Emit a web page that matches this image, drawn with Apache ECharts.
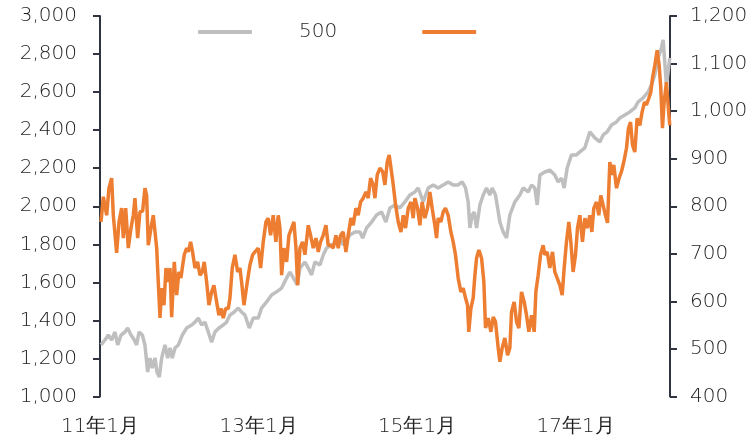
<!DOCTYPE html>
<html>
<head>
<meta charset="utf-8">
<script src="https://cdn.jsdelivr.net/npm/echarts@6/dist/echarts.min.js"></script>
<style>
  html, body { margin: 0; padding: 0; background: #fff; }
  #chart { width: 755px; height: 441px; }
</style>
</head>
<body>
<div id="chart"></div>
<script>
// x positions are fractional years (2011.5 = mid 2011)
const grayYears = [2011.013, 2011.063, 2011.105, 2011.147, 2011.189, 2011.223, 2011.265, 2011.315, 2011.349, 2011.391, 2011.433, 2011.462, 2011.492, 2011.534, 2011.567, 2011.601, 2011.631, 2011.660, 2011.694, 2011.719, 2011.748, 2011.778, 2011.820, 2011.853, 2011.883, 2011.912, 2011.946, 2011.988,
  2012.038, 2012.093, 2012.156, 2012.198, 2012.240, 2012.282, 2012.324, 2012.366, 2012.408, 2012.450, 2012.500, 2012.555, 2012.597, 2012.639, 2012.693, 2012.744, 2012.786, 2012.829, 2012.883, 2012.933, 2012.996,
  2013.038, 2013.101, 2013.164, 2013.228, 2013.291, 2013.354, 2013.396, 2013.438, 2013.488, 2013.522, 2013.585, 2013.627, 2013.669, 2013.711, 2013.774, 2013.816, 2013.858, 2013.921, 2013.984,
  2014.026, 2014.068, 2014.153, 2014.216, 2014.279, 2014.313, 2014.363, 2014.426, 2014.489, 2014.552, 2014.606, 2014.657, 2014.720, 2014.783, 2014.846, 2014.909, 2014.972,
  2015.014, 2015.077, 2015.140, 2015.203, 2015.266, 2015.329, 2015.392, 2015.455, 2015.518, 2015.569, 2015.611, 2015.644, 2015.666, 2015.695, 2015.720, 2015.750, 2015.792, 2015.834, 2015.876, 2015.918, 2015.947, 2015.989,
  2016.044, 2016.086, 2016.128, 2016.170, 2016.233, 2016.296, 2016.338, 2016.401, 2016.444, 2016.485, 2016.515, 2016.549, 2016.611, 2016.674, 2016.737, 2016.779, 2016.822, 2016.855, 2016.893, 2016.947,
  2017.010, 2017.053, 2017.116, 2017.179, 2017.242, 2017.305, 2017.347, 2017.397, 2017.452, 2017.515, 2017.557, 2017.620, 2017.683, 2017.746, 2017.788, 2017.851, 2017.914, 2017.956, 2017.998,
  2018.040, 2018.082, 2018.103, 2018.124, 2018.145, 2018.166, 2018.187];
const grayValues = [1271, 1297, 1323, 1297, 1339, 1271, 1323, 1339, 1360, 1323, 1297, 1271, 1339, 1323, 1271, 1129, 1202, 1149, 1202, 1129, 1102, 1202, 1271, 1202, 1255, 1202, 1255, 1271,
  1323, 1360, 1376, 1391, 1412, 1376, 1391, 1339, 1286, 1339, 1360, 1376, 1391, 1428, 1444, 1465, 1444, 1428, 1360, 1412, 1412,
  1465, 1497, 1534, 1550, 1570, 1623, 1654, 1623, 1586, 1675, 1707, 1675, 1639, 1707, 1691, 1744, 1780, 1796, 1812,
  1833, 1796, 1849, 1865, 1865, 1833, 1886, 1917, 1954, 1970, 1917, 1991, 2007, 1991, 2023, 2059, 2075,
  2096, 2023, 2096, 2112, 2096, 2112, 2128, 2112, 2112, 2128, 2096, 2023, 1886, 1954, 1970, 1886, 2007, 2059, 2096, 2059, 2096, 2059,
  1917, 1865, 1833, 1954, 2023, 2059, 2096, 2075, 2112, 2096, 2007, 2164, 2180, 2190, 2164, 2128, 2148, 2096, 2201, 2270,
  2270, 2286, 2307, 2391, 2359, 2338, 2375, 2391, 2427, 2443, 2464, 2480, 2496, 2517, 2549, 2570, 2601, 2638, 2690,
  2780, 2832, 2874, 2759, 2638, 2706, 2780];

const orangeYears = [2011.013, 2011.042, 2011.084, 2011.113, 2011.147, 2011.168, 2011.210, 2011.240, 2011.273, 2011.294, 2011.324, 2011.357, 2011.391, 2011.420, 2011.441, 2011.475, 2011.504, 2011.538, 2011.567, 2011.588, 2011.609, 2011.643, 2011.672, 2011.694, 2011.715, 2011.735, 2011.757, 2011.778, 2011.807, 2011.832, 2011.861, 2011.883, 2011.904, 2011.937, 2011.967, 2011.996,
  2012.021, 2012.038, 2012.063, 2012.093, 2012.114, 2012.143, 2012.168, 2012.198, 2012.231, 2012.261, 2012.290, 2012.315, 2012.345, 2012.374, 2012.408, 2012.437, 2012.471, 2012.500, 2012.526, 2012.555, 2012.585, 2012.618, 2012.639, 2012.668, 2012.702, 2012.736, 2012.765, 2012.786, 2012.816, 2012.858, 2012.892, 2012.926, 2012.955, 2012.996,
  2013.026, 2013.059, 2013.093, 2013.122, 2013.152, 2013.185, 2013.219, 2013.248, 2013.270, 2013.291, 2013.320, 2013.354, 2013.383, 2013.417, 2013.446, 2013.472, 2013.493, 2013.522, 2013.555, 2013.585, 2013.627, 2013.656, 2013.690, 2013.724, 2013.753, 2013.782, 2013.816, 2013.850, 2013.879, 2013.909, 2013.942, 2013.976,
  2014.005, 2014.035, 2014.068, 2014.102, 2014.131, 2014.165, 2014.194, 2014.228, 2014.257, 2014.287, 2014.320, 2014.354, 2014.383, 2014.413, 2014.446, 2014.468, 2014.497, 2014.531, 2014.565, 2014.594, 2014.623, 2014.648, 2014.699, 2014.729, 2014.762, 2014.796, 2014.825, 2014.854, 2014.888, 2014.922, 2014.951, 2014.972,
  2015.006, 2015.035, 2015.064, 2015.098, 2015.132, 2015.161, 2015.190, 2015.224, 2015.245, 2015.266, 2015.300, 2015.329, 2015.358, 2015.392, 2015.426, 2015.455, 2015.484, 2015.518, 2015.552, 2015.581, 2015.611, 2015.636, 2015.652, 2015.678, 2015.707, 2015.729, 2015.750, 2015.779, 2015.813, 2015.842, 2015.863, 2015.897, 2015.931, 2015.960, 2015.989,
  2016.023, 2016.044, 2016.073, 2016.107, 2016.141, 2016.170, 2016.191, 2016.224, 2016.254, 2016.284, 2016.317, 2016.351, 2016.380, 2016.410, 2016.444, 2016.477, 2016.498, 2016.527, 2016.557, 2016.590, 2016.611, 2016.641, 2016.674, 2016.708, 2016.737, 2016.767, 2016.800, 2016.830, 2016.855, 2016.884, 2016.914, 2016.939, 2016.968, 2016.998,
  2017.023, 2017.053, 2017.086, 2017.116, 2017.145, 2017.179, 2017.204, 2017.229, 2017.263, 2017.292, 2017.317, 2017.347, 2017.376, 2017.402, 2017.431, 2017.452, 2017.481, 2017.515, 2017.548, 2017.578, 2017.607, 2017.641, 2017.666, 2017.692, 2017.717, 2017.746, 2017.775, 2017.809, 2017.838, 2017.868, 2017.893, 2017.923, 2017.948, 2017.969, 2017.999,
  2018.028, 2018.053, 2018.074, 2018.095, 2018.116, 2018.145, 2018.166, 2018.187];
const orangeValues = [767, 820, 781, 838, 859, 781, 702, 767, 796, 733, 796, 712, 754, 781, 817, 733, 788, 790, 838, 823, 718, 754, 781, 746, 712, 641, 565, 628, 592, 670, 641, 670, 567, 683, 613, 662,
  649, 670, 698, 712, 704, 725, 704, 670, 683, 655, 662, 683, 641, 592, 620, 634, 599, 571, 585, 565, 585, 585, 607, 670, 698, 662, 670, 641, 592, 641, 677, 698, 704, 712,
  670, 725, 767, 775, 739, 781, 725, 781, 754, 655, 712, 683, 739, 754, 767, 712, 634, 712, 725, 698, 760, 739, 712, 733, 704, 725, 739, 760, 718, 718, 712, 739,
  712, 739, 746, 704, 739, 775, 760, 796, 781, 809, 817, 830, 817, 859, 845, 817, 866, 880, 873, 845, 893, 908, 845, 802, 767, 746, 781, 754, 796, 809, 775, 817,
  796, 760, 809, 775, 796, 830, 796, 760, 733, 775, 767, 788, 796, 781, 746, 725, 698, 649, 620, 628, 607, 592, 536, 585, 607, 655, 691, 708, 691, 641, 544, 565, 536, 567, 557,
  502, 473, 502, 523, 487, 502, 578, 599, 557, 544, 620, 599, 571, 536, 571, 536, 620, 655, 698, 718, 698, 704, 670, 704, 662, 649, 634, 613, 670, 725, 767, 725, 662, 698,
  754, 781, 725, 775, 754, 781, 746, 796, 809, 781, 823, 802, 781, 765, 893, 866, 887, 838, 859, 873, 893, 922, 964, 977, 929, 914, 985, 970, 998, 1019, 1013, 1027, 1040, 1069, 1097,
  1128, 1097, 1048, 964, 1019, 1061, 1013, 970];

const xTickYears = [2011, 2013, 2015, 2017];
const grayName = '500';
const orangeName = ' ';

const pair = (xs, ys) => xs.map((x, i) => [x, ys[i]]);
const thousands = v => String(v).replace(/\B(?=(\d{3})+(?!\d))/g, ',');

const axisColor = '#2f3440';
const labelFont = { fontFamily: 'DejaVu Sans', fontWeight: 200, fontSize: 20, color: '#1e1e1e' };

const chart = echarts.init(document.getElementById('chart'));
chart.setOption({
  animation: false,
  backgroundColor: '#fff',
  grid: { left: 100, right: 85, top: 16, bottom: 44.5, containLabel: false },
  legend: {
    left: 193,
    top: 17,
    icon: 'roundRect',
    itemWidth: 54,
    itemHeight: 4,
    itemGap: 85,
    textStyle: labelFont,
    data: [
      { name: grayName, textStyle: { padding: [0, 0, 0, 42] } },
      { name: orangeName }
    ]
  },
  xAxis: {
    type: 'value',
    min: 2011,
    max: 2018.19,
    interval: 2,
    axisLine: { show: false },
    axisTick: { show: false },
    splitLine: { show: false },
    axisLabel: Object.assign({}, labelFont, {
      margin: 20,
      showMaxLabel: false,
      formatter: v => xTickYears.includes(v) ? (v % 100) + '年1月' : ''
    })
  },
  yAxis: [
    {
      type: 'value',
      min: 1000,
      max: 3000,
      interval: 200,
      position: 'left',
      axisLine: { show: true, lineStyle: { color: axisColor, width: 2 } },
      axisTick: { show: true, length: 7, lineStyle: { color: axisColor, width: 2 } },
      splitLine: { show: false },
      axisLabel: Object.assign({}, labelFont, { margin: 23, formatter: thousands })
    },
    {
      type: 'value',
      min: 400,
      max: 1200,
      interval: 100,
      position: 'right',
      axisLine: { show: true, lineStyle: { color: axisColor, width: 2 } },
      axisTick: { show: true, length: 7, lineStyle: { color: axisColor, width: 2 } },
      splitLine: { show: false },
      axisLabel: Object.assign({}, labelFont, { margin: 20, formatter: thousands })
    }
  ],
  series: [
    {
      name: grayName,
      type: 'line',
      yAxisIndex: 0,
      showSymbol: false,
      symbol: 'none',
      lineStyle: { color: '#bfbfbf', width: 3.5 },
      itemStyle: { color: '#bfbfbf' },
      data: pair(grayYears, grayValues)
    },
    {
      name: orangeName,
      type: 'line',
      yAxisIndex: 1,
      showSymbol: false,
      symbol: 'none',
      lineStyle: { color: '#ed7d31', width: 3.5 },
      itemStyle: { color: '#ed7d31' },
      data: pair(orangeYears, orangeValues)
    }
  ]
});
</script>
</body>
</html>
